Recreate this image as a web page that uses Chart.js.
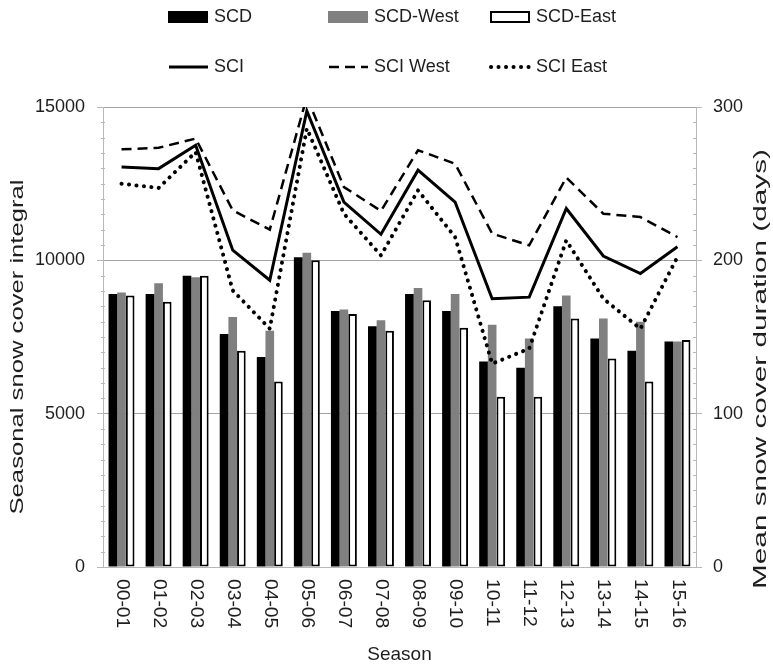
<!DOCTYPE html>
<html>
<head>
<meta charset="utf-8">
<script src="https://cdn.jsdelivr.net/npm/chart.js@4.4.1/dist/chart.umd.min.js"></script>
<style>
  html, body { margin: 0; padding: 0; background: #ffffff; }
  #wrap { width: 773px; height: 666px; }
</style>
</head>
<body>
<div id="wrap"><canvas id="chart" width="773" height="666"></canvas></div>
<script>
// Seasons (winter years)
const seasons = ['00-01', '01-02', '02-03', '03-04', '04-05', '05-06', '06-07', '07-08',
                 '08-09', '09-10', '10-11', '11-12', '12-13', '13-14', '14-15', '15-16'];

// Mean snow cover duration (days) - right axis
const scd     = [178, 178, 190, 152, 137, 202, 167, 157, 178, 167, 134, 130, 170, 149, 141, 147];
const scdWest = [179, 185, 189, 163, 154, 205, 168, 161, 182, 178, 158, 149, 177, 162, 160, 147];
const scdEast = [177, 173, 190, 141, 121, 200, 165, 154, 174, 156, 111, 111, 162, 136, 121, 148];

// Seasonal snow cover integral - left axis
const sci     = [13040, 12990, 13750, 10330, 9350, 14870, 11900, 10850, 12940, 11900, 8750, 8800, 11690, 10140, 9570, 10440];
const sciWest = [13620, 13670, 13970, 11630, 11000, 15330, 12390, 11610, 13590, 13150, 10870, 10490, 12700, 11520, 11410, 10760];
const sciEast = [12500, 12360, 13530, 9020, 7770, 14300, 11520, 10160, 12280, 10760, 6630, 7120, 10650, 8750, 7770, 10110];

// Axis tick values
const leftTicks  = [0, 5000, 10000, 15000];
const rightTicks = [0, 100, 200, 300];

// Axis titles
const leftTitle  = 'Seasonal snow cover integral';
const rightTitle = 'Mean snow cover duration (days)';

const FONT = 'Liberation Sans, Arial, sans-serif';
const TEXT = '#1e1e1e';
const GRID = '#a3a3a3';
const AXIS = '#b8b8b8';

// Two-row legend laid out in fixed columns
const legendPlugin = {
  id: 'columnLegend',
  afterDraw(chart) {
    const ctx = chart.ctx;
    const cols = [168, 328, 490];
    const rows = [17, 67];
    ctx.save();
    ctx.font = '18px ' + FONT;
    ctx.textBaseline = 'middle';
    ctx.textAlign = 'left';
    chart.data.datasets.forEach((ds, i) => {
      const x = cols[i % 3];
      const y = rows[Math.floor(i / 3)];
      if (ds.type === 'bar') {
        ctx.fillStyle = ds.backgroundColor;
        ctx.fillRect(x, y - 6, 40, 12);
        if (ds.borderWidth) {
          ctx.lineWidth = 2;
          ctx.strokeStyle = ds.borderColor;
          ctx.strokeRect(x + 1, y - 5, 38, 10);
        }
      } else {
        ctx.beginPath();
        ctx.strokeStyle = ds.borderColor;
        ctx.lineWidth = ds.borderWidth;
        ctx.lineCap = ds.borderCapStyle || 'butt';
        ctx.setLineDash(ds.borderDash || []);
        ctx.moveTo(x + 1, y);
        ctx.lineTo(x + 40, y);
        ctx.stroke();
        ctx.setLineDash([]);
      }
      ctx.fillStyle = TEXT;
      ctx.fillText(ds.label, x + 46, y);
    });
    ctx.restore();
  }
};

// Rotated text reading bottom-to-top, stretched along its length
function drawVerticalTitle(ctx, text, cx, cy, length, size) {
  ctx.save();
  ctx.translate(cx, cy);
  ctx.rotate(-Math.PI / 2);
  ctx.font = size + 'px ' + FONT;
  const w = ctx.measureText(text).width;
  ctx.scale(length / w, 1);
  ctx.textAlign = 'center';
  ctx.textBaseline = 'middle';
  ctx.fillStyle = TEXT;
  ctx.fillText(text, 0, 0);
  ctx.restore();
}

// Minor tick marks, season labels (top-to-bottom) and value-axis titles
const axisDecor = {
  id: 'axisDecor',
  afterDraw(chart) {
    const ctx = chart.ctx;
    const area = chart.chartArea;
    const yl = chart.scales.y;
    ctx.save();
    ctx.strokeStyle = AXIS;
    ctx.lineWidth = 1;
    for (let v = 500; v < 15000; v += 500) {
      if (v % 5000 === 0) continue;
      const y = Math.round(yl.getPixelForValue(v)) + 0.5;
      ctx.beginPath();
      ctx.moveTo(area.left - 2, y); ctx.lineTo(area.left + 2, y);
      ctx.moveTo(area.right - 3, y); ctx.lineTo(area.right + 1, y);
      ctx.stroke();
    }
    const xs = chart.scales.x;
    ctx.fillStyle = TEXT;
    ctx.font = '18px ' + FONT;
    ctx.textAlign = 'left';
    ctx.textBaseline = 'middle';
    xs.ticks.forEach((t, i) => {
      const x = xs.getPixelForTick(i);
      ctx.save();
      ctx.translate(x, area.bottom + 12);
      ctx.rotate(Math.PI / 2);
      ctx.scale(1.07, 1);
      ctx.fillText(xs.getLabelForValue(t.value), 0, 0);
      ctx.restore();
    });
    ctx.restore();
    drawVerticalTitle(ctx, leftTitle, 18, 347, 335, 19);
    drawVerticalTitle(ctx, rightTitle, 761, 369, 440, 19);
  }
};

const plain = v => String(v);

new Chart(document.getElementById('chart'), {
  data: {
    labels: seasons,
    datasets: [
      { type: 'bar', label: 'SCD', data: scd, yAxisID: 'y1', backgroundColor: '#000000',
        categoryPercentage: 0.7, barPercentage: 1.0, order: 2 },
      { type: 'bar', label: 'SCD-West', data: scdWest, yAxisID: 'y1', backgroundColor: '#808080',
        categoryPercentage: 0.7, barPercentage: 1.0, order: 2 },
      { type: 'bar', label: 'SCD-East', data: scdEast, yAxisID: 'y1', backgroundColor: '#ffffff',
        borderColor: '#000000', borderWidth: 2, borderSkipped: false,
        categoryPercentage: 0.7, barPercentage: 1.0, order: 2 },
      { type: 'line', label: 'SCI', data: sci, yAxisID: 'y', borderColor: '#000000',
        borderWidth: 3, pointRadius: 0, fill: false, tension: 0, order: 1 },
      { type: 'line', label: 'SCI West', data: sciWest, yAxisID: 'y', borderColor: '#000000',
        borderWidth: 2.5, borderDash: [10, 6], pointRadius: 0, fill: false, tension: 0, order: 1 },
      { type: 'line', label: 'SCI East', data: sciEast, yAxisID: 'y', borderColor: '#000000',
        borderWidth: 4, borderDash: [0.1, 7.4], borderCapStyle: 'round', pointRadius: 0,
        fill: false, tension: 0, order: 1 }
    ]
  },
  options: {
    responsive: false,
    animation: false,
    layout: { padding: { top: 107, left: 0, right: 0, bottom: 0 } },
    plugins: {
      legend: { display: false },
      tooltip: { enabled: false }
    },
    scales: {
      x: {
        type: 'category',
        offset: true,
        grid: { display: false },
        border: { display: true, color: AXIS, width: 1 },
        ticks: { display: false },
        title: { display: true, text: 'Season', color: TEXT,
                 font: { family: FONT, size: 19 }, padding: { top: 0, bottom: 0 } },
        afterFit(s) { s.height = 99; }
      },
      y: {
        position: 'left',
        min: 0, max: 15000,
        afterBuildTicks(s) { s.ticks = leftTicks.map(v => ({ value: v })); },
        ticks: { color: TEXT, font: { family: FONT, size: 18 }, padding: 12, callback: plain },
        grid: { color: GRID, tickColor: AXIS, tickLength: 6, lineWidth: 1 },
        border: { display: true, color: AXIS, width: 1 },
        afterFit(s) { s.width = 103; }
      },
      y1: {
        position: 'right',
        min: 0, max: 300,
        afterBuildTicks(s) { s.ticks = rightTicks.map(v => ({ value: v })); },
        ticks: { color: TEXT, font: { family: FONT, size: 18 }, padding: 11, callback: plain },
        grid: { drawOnChartArea: false, tickColor: AXIS, tickLength: 6 },
        border: { display: true, color: AXIS, width: 1 },
        afterFit(s) { s.width = 77; }
      }
    }
  },
  plugins: [legendPlugin, axisDecor]
});
</script>
</body>
</html>
